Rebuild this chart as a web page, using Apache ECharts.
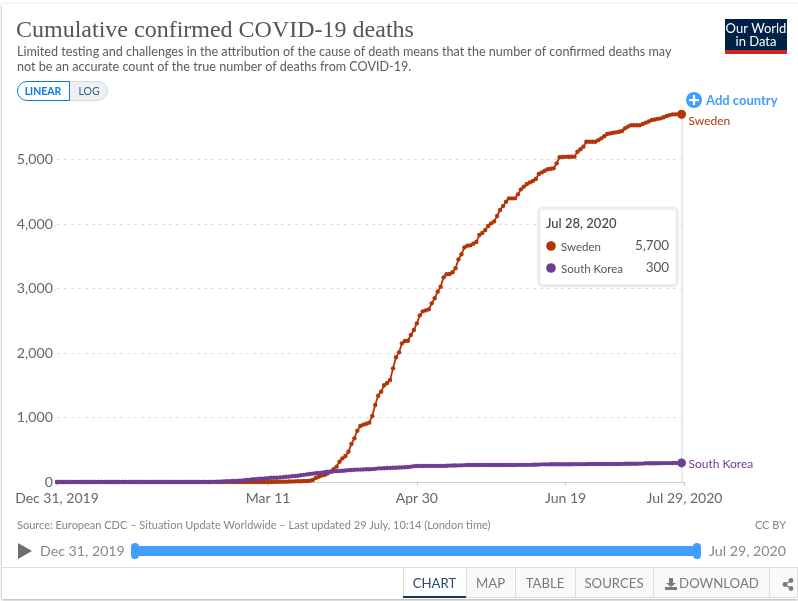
<!DOCTYPE html>
<html><head><meta charset="utf-8">
<style>html,body{margin:0;padding:0;background:#fff}
#card{position:absolute;left:2px;top:4px;width:796px;height:595px;background:#fff;box-shadow:0 1px 3px rgba(0,0,0,.35)}
#c{position:absolute;left:0;top:0;width:798px;height:601px}</style>
<script src="https://cdn.jsdelivr.net/npm/echarts@6/dist/echarts.min.js"></script>
</head><body><div id="card"></div><div id="c"></div>
<script>
const swedenDeaths = [
0,0,0,0,0,0,0,0,0,0, 0,0,0,0,0,0,0,0,0,0, 0,0,0,0,0,0,0,0,0,0,
0,0,0,0,0,0,0,0,0,0, 0,0,0,0,0,0,0,0,0,0, 0,0,0,0,0,0,0,0,0,0,
0,0,0,0,0,0,0,0,0,0,
0,1,1,1,2,3,3,5,7,8,
10,11,12,16,16,20,30,62,82,100,
110,130,160,200,238,315,367,403,470,589,
677,796,868,889,904,920,1023,1194,1338,1401,
1499,1535,1581,1762,1933,2010,2150,2186,2190,2279,
2357,2460,2584,2646,2661,2677,2770,2848,2951,3028,
3173,3220,3225,3251,3313,3452,3530,3638,3664,3669,
3695,3721,3829,3860,3907,3969,4010,4040,4124,4217,
4280,4346,4398,4398,4398,4460,4537,4580,4620,4645,
4667,4698,4775,4800,4825,4848,4856,4863,4940,5034,
5040,5041,5042,5043,5044,5121,5160,5199,5276,5276,
5276,5276,5300,5328,5360,5395,5405,5415,5421,5430,
5442,5483,5510,5530,5530,5530,5530,5550,5571,5590,
5612,5620,5630,5638,5655,5674,5688,5700,5700,5700,
5702];
const southKoreaDeaths = [
0,0,0,0,0,0,0,0,0,0, 0,0,0,0,0,0,0,0,0,0, 0,0,0,0,0,0,0,0,0,0,
0,0,0,0,0,0,0,0,0,0, 0,0,0,0,0,0,0,0,0,0,
0,1,2,2,4,6,8,12,13,16,
17,20,22,28,32,35,42,44,50,51,
54,60,66,66,67,72,75,81,84,91,
94,98,104,111,118,124,130,136,140,146,
152,158,160,165,168,170,174,178,184,186,
190,192,192,195,197,197,200,204,212,212,
214,216,218,220,222,224,226,228,232,238,
246,248,248,248,250,250,250,250,250,250,
250,252,254,256,256,258,258,262,263,263,
263,263,263,263,263,263,263,263,263,263,
263,264,264,264,264,265,265,266,266,266,
267,268,270,274,274,274,275,275,275,275,
276,276,276,276,277,277,277,277,277,278,
278,278,278,279,279,279,279,280,280,280,
281,282,282,283,284,284,285,285,290,290,
290,291,291,292,292,293,293,294,295,296,
296];
const tickDays = [0, 71, 121, 171, 211];
const tickLabels = ['Dec 31, 2019', 'Mar 11', 'Apr 30', 'Jun 19', 'Jul 29, 2020'];
const seriesNames = ['Sweden', 'South Korea'];
const seriesColors = ['#B13507', '#6D3E91'];
const tooltipDate = 'Jul 28, 2020';
const tooltipValues = ['5,700', '300'];
const titleText = 'Cumulative confirmed COVID-19 deaths';
const subtitleLines = ['Limited testing and challenges in the attribution of the cause of death means that the number of confirmed deaths may',
 'not be an accurate count of the true number of deaths from COVID-19.'];
const sourceText = 'Source: European CDC – Situation Update Worldwide – Last updated 29 July, 10:14 (London time)';
const tabs = [['CHART',403,63],['MAP',466,49],['TABLE',515,60],['SOURCES',575,78],['DOWNLOAD',653,116]];

const F = 'Lato, "Open Sans", sans-serif';
const txt = (x,y,text,size,fill,extra={}) => ({type:'text',silent:true,x,y,z:extra.z||10,
  style:Object.assign({text,font:`${extra.weight||'normal'} ${size}px ${extra.family||F}`,fill,textAlign:extra.align||'left',textVerticalAlign:'middle'},extra.style||{})});
const rect = (x,y,w,h,fill,extra={}) => ({type:'rect',silent:true,z:extra.z||5,shape:{x,y,width:w,height:h,r:extra.r||0},
  style:Object.assign({fill,stroke:extra.stroke||null,lineWidth:extra.lw||1},extra.style||{})});
const circ = (cx,cy,r,fill,z=11) => ({type:'circle',silent:true,z,shape:{cx,cy,r},style:{fill}});

const last = swedenDeaths.length-1;
const mk = (i,data) => ({
  type:'line',name:seriesNames[i],data:data.map((v,d)=>[d,v]),
  showSymbol:true,showAllSymbol:true,symbol:'circle',
  symbolSize:(v,p)=>p.dataIndex===last?9:4.4,
  clip:false,
  lineStyle:{color:seriesColors[i],width:1.8},
  itemStyle:{color:seriesColors[i]},
  z:3+i,
  endLabel:{show:true,formatter:seriesNames[i],color:seriesColors[i],fontFamily:F,fontSize:12,
    distance:0,offset:i===0?[7,7]:[7,1]}
});
const sweden = mk(0,swedenDeaths);
sweden.markLine = {silent:true,symbol:'none',label:{show:false},animation:false,
  lineStyle:{color:'#eaeaea',width:2,type:'solid'},z:1,
  data:[[{coord:[last,0]},{coord:[last,swedenDeaths[last]]}]]};

const gfx = [
  txt(16,31,titleText,24,'#555',{family:'"Liberation Serif",serif'}),
  txt(17,52,subtitleLines[0],12.6,'#5b5b5b'),
  txt(17,67,subtitleLines[1],12.6,'#5b5b5b'),
  rect(725,19,62,35,'#002147'),
  rect(725,50,62,4,'#CE261E',{z:6}),
  txt(756,28.5,'Our World',13,'#fff',{align:'center'}),
  txt(756,41.5,'in Data',13,'#fff',{align:'center'}),
  rect(60,81.5,47.5,19,'#eef0f3',{r:[0,10,10,0],stroke:'#d5d8dd'}),
  rect(17.5,81.5,52,19,'#fff',{r:[10,0,0,10],stroke:'#0a7be6',z:6}),
  txt(43,91.5,'LINEAR',10.5,'#0a7be6',{align:'center',weight:'bold'}),
  txt(89,91.5,'LOG',10.5,'#3a5a85',{align:'center'}),
  circ(694,100,8,'#3F9EFF'),
  rect(689,99,10,2.2,'#fff',{z:12}),
  rect(692.9,95,2.2,10,'#fff',{z:12}),
  txt(706,100.5,'Add country',13,'#3F9EFF',{weight:'bold'}),
  rect(539,208,138,77,'#fff',{z:20,r:2,stroke:'#e0e0e0',style:{shadowBlur:3,shadowColor:'rgba(0,0,0,0.12)',shadowOffsetY:1}}),
  txt(546,224,tooltipDate,13,'#444',{z:21,weight:500}),
  circ(551,246,4.8,seriesColors[0],21),
  circ(551,268,4.8,seriesColors[1],21),
  txt(561,247,seriesNames[0],11.5,'#555',{z:21}),
  txt(561,269,seriesNames[1],11.5,'#555',{z:21}),
  txt(669,246,tooltipValues[0],13.4,'#555',{z:21,align:'right'}),
  txt(669,268,tooltipValues[1],13.4,'#555',{z:21,align:'right'}),
  txt(17,525,sourceText,11,'#858585'),
  txt(786,525,'CC BY',11,'#858585',{align:'right'}),
  {type:'polygon',silent:true,z:10,shape:{points:[[18,543],[32,551],[18,559]]},style:{fill:'#6e6e6e'}},
  txt(40,551,tickLabels[0],14.2,'#888'),
  rect(132,546,568,10,'#3F9EFF'),
  rect(131,543,8,16,'#3F9EFF',{r:4,z:6}),
  rect(693,543,8,16,'#3F9EFF',{r:4,z:6}),
  txt(709,551,tickLabels[4],14.2,'#888'),
  rect(2,567,796,1,'#ddd'),
];
tabs.forEach(([t,x,w],i)=>{
  gfx.push(rect(x+.5,567.5,w,30,i===0?'#fff':'#f8f9fa',{stroke:'#ddd',z:6}));
  gfx.push(txt(t==='DOWNLOAD'?x+w/2+8:x+w/2,584,t,13.2,i===0?'#2c4a6e':'#7a7a7a',{align:'center',z:7}));
});
gfx.push(rect(403,596,63,2,'#17375e',{z:8}));
gfx.push(rect(769.5,567.5,28,30,'#f8f9fa',{stroke:'#ddd',z:6}));
gfx.push({type:'polygon',silent:true,z:8,shape:{points:[[669,578],[673,578],[673,583],[676,583],[671,587],[666,583],[669,583]]},style:{fill:'#7a7a7a'}});
gfx.push(rect(665,587,12,3,'#7a7a7a',{z:8}));
[[785,584.5],[791,580.5],[791,588.5]].forEach(p=>gfx.push(circ(p[0],p[1],2.4,'#7a7a7a',8)));
gfx.push({type:'polyline',silent:true,z:8,shape:{points:[[791,580.5],[785,584.5],[791,588.5]]},style:{stroke:'#7a7a7a',lineWidth:1.2,fill:null}});

const chart = echarts.init(document.getElementById('c'),null,{renderer:'canvas'});
chart.setOption({
  animation:false,
  backgroundColor:'transparent',
  textStyle:{fontFamily:F},
  grid:{left:57,right:113.5,top:95,bottom:119,containLabel:false},
  xAxis:{type:'value',min:0,max:211,
    splitLine:{show:false},
    axisLine:{show:true,lineStyle:{color:'#ccc',width:1}},
    axisTick:{show:true,length:4,lineStyle:{color:'#ccc'},customValues:tickDays},
    axisLabel:{color:'#666',fontSize:14,fontFamily:F,margin:9,customValues:tickDays,
      hideOverlap:false,alignMinLabel:'center',alignMaxLabel:'center',
      formatter:v=>tickLabels[tickDays.indexOf(v)]}},
  yAxis:{type:'value',min:0,max:6000,interval:1000,
    axisLine:{show:false},axisTick:{show:false},
    splitLine:{show:true,showMinLine:false,showMaxLine:false,lineStyle:{color:'#ddd',type:[3,4],width:1}},
    axisLabel:{color:'#666',fontSize:14.2,fontFamily:F,margin:4,showMaxLabel:false,
      formatter:v=>v.toLocaleString('en-US')}},
  series:[sweden,mk(1,southKoreaDeaths)],
  graphic:{elements:gfx}
});
</script></body></html>
